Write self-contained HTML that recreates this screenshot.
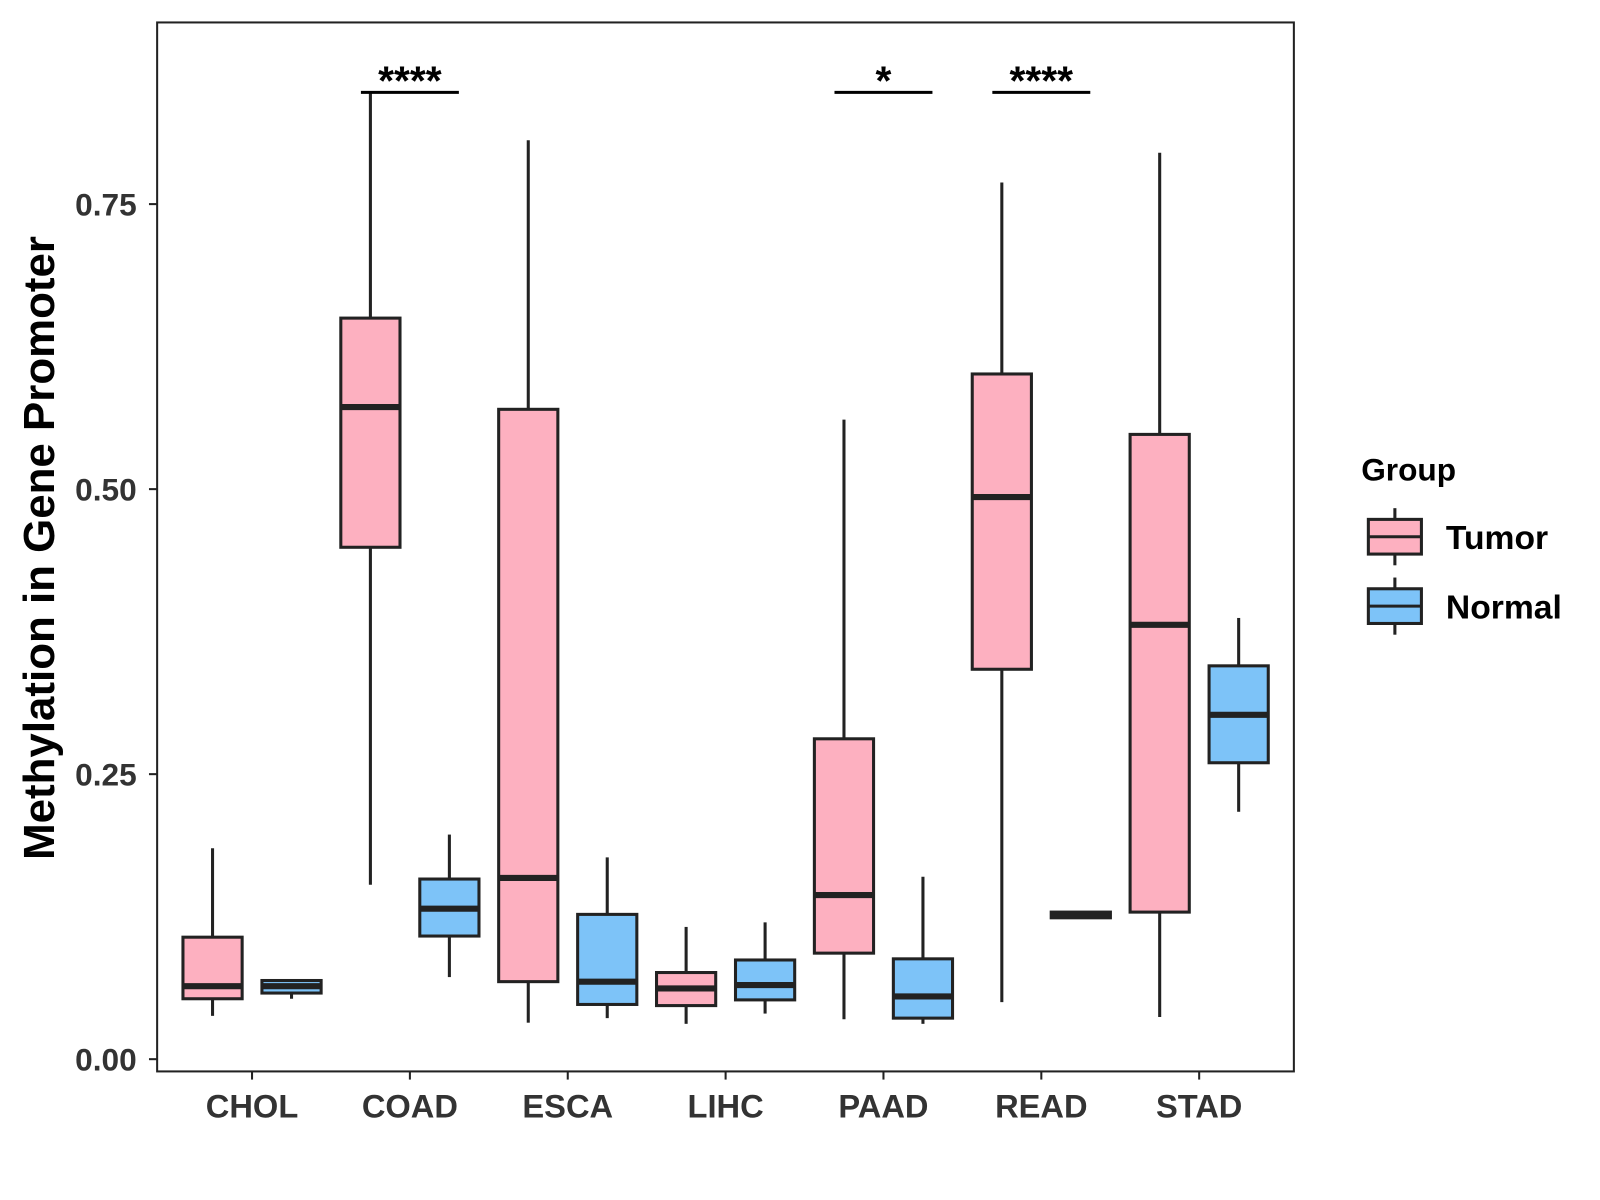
<!DOCTYPE html>
<html><head><meta charset="utf-8"><style>
body{margin:0;background:#fff}
svg{display:block;font-family:"Liberation Sans",Arial,sans-serif}
</style></head><body>
<svg id="chart" width="1600" height="1200" viewBox="0 0 1600 1200">
<g transform="scale(1.0204)">
<rect x="154" y="22" width="1114" height="1028" fill="#fff" stroke="#222" stroke-width="2"/>
<g id="yaxis"></g>
<g id="xaxis"></g>
<g id="boxes"></g>
<g id="sig"></g>
<text x="0" y="0" transform="translate(53,537) rotate(-90)" text-anchor="middle" font-size="43" font-weight="bold" fill="#000">Methylation in Gene Promoter</text>
<g>
<text x="1334" y="471" font-size="31" font-weight="bold" fill="#000">Group</text>
<g>
<line x1="1367" y1="498" x2="1367" y2="554" stroke="#222" stroke-width="3"/>
<rect x="1341" y="509" width="52" height="34" fill="#FDB0C0" stroke="#222" stroke-width="3"/>
<line x1="1341" y1="526" x2="1393" y2="526" stroke="#222" stroke-width="3"/>
<text x="1417" y="538" font-size="33" font-weight="bold" fill="#000">Tumor</text>
</g>
<g>
<line x1="1367" y1="566" x2="1367" y2="622" stroke="#222" stroke-width="3"/>
<rect x="1341" y="577" width="52" height="34" fill="#7DC3F8" stroke="#222" stroke-width="3"/>
<line x1="1341" y1="594" x2="1393" y2="594" stroke="#222" stroke-width="3"/>
<text x="1417" y="606" font-size="33" font-weight="bold" fill="#000">Normal</text>
</g>
</g>
</g>
</svg>
<script>
const categories=["CHOL","COAD","ESCA","LIHC","PAAD","READ","STAD"];
// [low, q1, median, q3, high]
const tumorStats=[
[0.038,0.053,0.064,0.107,0.185],
[0.153,0.449,0.572,0.650,0.848],
[0.032,0.068,0.159,0.570,0.806],
[0.031,0.047,0.062,0.076,0.116],
[0.035,0.093,0.144,0.281,0.561],
[0.050,0.342,0.493,0.601,0.769],
[0.037,0.129,0.381,0.548,0.795]];
const normalStats=[
[0.053,0.058,0.064,0.069,0.069],
[0.072,0.108,0.132,0.158,0.197],
[0.036,0.048,0.068,0.127,0.177],
[0.040,0.052,0.065,0.087,0.120],
[0.031,0.036,0.055,0.088,0.160],
[0.124,0.124,0.126,0.129,0.129],
[0.217,0.260,0.302,0.345,0.387]];
const yTicks=[0,0.25,0.5,0.75];
const yTickLabels=["0.00","0.25","0.50","0.75"];
const sigCats=["COAD","PAAD","READ"];
const sigLabels=["****","*","****"];
const sigLevel=0.848;

const NS="http://www.w3.org/2000/svg";
function y(v){return 1038-v*1117.3;}
function x(i){return 247+i*154.7;}
function mk(tag,attrs,parent){const e=document.createElementNS(NS,tag);for(const k in attrs)e.setAttribute(k,attrs[k]);parent.appendChild(e);return e;}
const ya=document.getElementById('yaxis'),xa=document.getElementById('xaxis'),bx=document.getElementById('boxes'),sg=document.getElementById('sig');
yTicks.forEach((t,i)=>{
 mk('line',{x1:146,x2:154,y1:y(t),y2:y(t),stroke:'#222','stroke-width':2},ya);
 const tx=mk('text',{x:134,y:y(t)+11,'text-anchor':'end','font-size':31,'font-weight':'bold',fill:'#333'},ya);
 tx.textContent=yTickLabels[i];
 
 
});
categories.forEach((c,i)=>{
 mk('line',{x1:x(i),x2:x(i),y1:1050,y2:1058,stroke:'#222','stroke-width':2},xa);
 const tx=mk('text',{x:x(i),y:1095,'text-anchor':'middle','font-size':32,'font-weight':'bold',fill:'#333'},xa);
 tx.textContent=c;
 
 
});
function drawBox(s,cx,fill,name){
 const g=mk('g',{},bx);
 
 
 const hw=29;
 mk('line',{x1:cx,x2:cx,y1:y(s[4]),y2:y(s[3]),stroke:'#222','stroke-width':3},g);
 mk('line',{x1:cx,x2:cx,y1:y(s[1]),y2:y(s[0]),stroke:'#222','stroke-width':3},g);
 mk('rect',{x:cx-hw,y:y(s[3]),width:hw*2,height:Math.max(0.5,y(s[1])-y(s[3])),fill:fill,stroke:'#222','stroke-width':3},g);
 mk('line',{x1:cx-hw,x2:cx+hw,y1:y(s[2]),y2:y(s[2]),stroke:'#222','stroke-width':6},g);
}
categories.forEach((c,i)=>{
 drawBox(tumorStats[i],x(i)-38.7,'#FDB0C0','box-tumor-'+c.toLowerCase());
 drawBox(normalStats[i],x(i)+38.7,'#7DC3F8','box-normal-'+c.toLowerCase());
});
sigCats.forEach((c,k)=>{
 const i=categories.indexOf(c);
 const g=mk('g',{},sg);
 
 
 mk('line',{x1:x(i)-48,x2:x(i)+48,y1:y(sigLevel),y2:y(sigLevel),stroke:'#000','stroke-width':3},g);
 const t=mk('text',{x:x(i),y:y(sigLevel)+2,'text-anchor':'middle','font-size':40,'font-weight':'bold',fill:'#000'},g);
 t.textContent=sigLabels[k];
});
</script>
</body></html>
